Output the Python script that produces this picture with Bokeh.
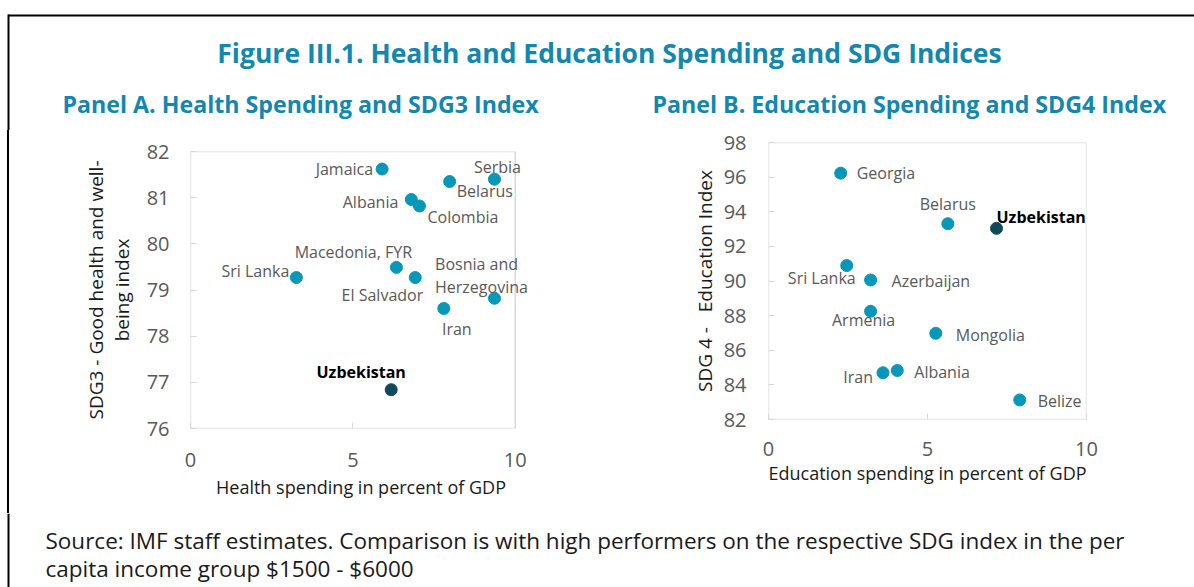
from bokeh.plotting import figure
from bokeh.layouts import column, row
from bokeh.models import Range1d, ColumnDataSource, FixedTicker, LabelSet, Div
from bokeh.core.properties import value
from bokeh.embed import file_html
from bokeh.resources import INLINE

# ---------------- data ----------------
a_countries = ["Jamaica", "Serbia", "Belarus", "Albania", "Colombia", "Macedonia, FYR",
               "Sri Lanka", "El Salvador", "Bosnia and\nHerzegovina", "Iran", "Uzbekistan"]
a_health_spend = [5.9, 9.36, 7.98, 6.8, 7.05, 6.34, 3.26, 6.92, 9.36, 7.8, 6.18]
a_sdg3 = [81.62, 81.40, 81.35, 80.96, 80.82, 79.49, 79.27, 79.27, 78.82, 78.60, 76.84]

b_countries = ["Georgia", "Belarus", "Uzbekistan", "Sri Lanka", "Azerbaijan", "Armenia",
               "Mongolia", "Albania", "Iran", "Belize"]
b_edu_spend = [2.27, 5.64, 7.17, 2.46, 3.21, 3.21, 5.26, 4.05, 3.60, 7.90]
b_sdg4 = [96.23, 93.31, 93.04, 90.89, 90.06, 88.25, 86.98, 84.83, 84.70, 83.13]

a_xticks = [0, 5, 10]
a_yticks = [76, 77, 78, 79, 80, 81, 82]
b_xticks = [0, 5, 10]
b_yticks = [82, 84, 86, 88, 90, 92, 94, 96, 98]
x_lim = (0, 10)
a_ylim = (76, 82)
b_ylim = (82, 98)

# label placement (pixels, +down) -- layout only
a_dx = [-9, 3, 7, -13, 8, -43, -7, 8, -13, 13, -30]
a_dy = [0, -12, 9, 2, 11, -15, -7, 17, -23, 21, -18]
a_align = ["right", "center", "left", "right", "left", "center", "right", "right", "center", "center", "center"]

b_dx = [16, 0, 0, 9, 21, -7, 20, 17, -10, 18]
b_dy = [0, -20, -11, 12, 1, 9, 2, 1, 4, 1]
b_align = ["left", "center", "left", "right", "left", "center", "left", "left", "right", "left"]

FONT = value("Open Sans")
TEAL = "#0797b8"
DARK = "#0f4a5c"
TITLE_C = "#1287b0"
GRAY = "#595959"
BOX = "#d9d9d9"
W = 1194


def blank(width, height):
    p = figure(width=width, height=height, output_backend="svg", toolbar_location=None,
               x_range=Range1d(0, width), y_range=Range1d(height, 0), min_border=0)
    p.axis.visible = False
    p.grid.visible = False
    p.outline_line_color = None
    return p


# ---------------- header (window y 0..130) ----------------
hdr_h = 130
hdr = blank(W, hdr_h)
hdr.line(x=[8, W], y=[15, 15], line_color="black", line_width=2)
hdr.line(x=[8, 8], y=[14, hdr_h], line_color="black", line_width=2)
hdr.text(x=[609], y=[52], text=["Figure III.1. Health and Education Spending and SDG Indices"],
         text_font=FONT, text_font_style="bold", text_font_size="26.5px",
         text_color=TITLE_C, text_align="center", text_baseline="middle")
hdr.text(x=[62, 652], y=[103, 103],
         text=["Panel A. Health Spending and SDG3 Index", "Panel B. Education Spending and SDG4 Index"],
         text_font=FONT, text_font_style="bold", text_font_size="23.2px",
         text_color=TITLE_C, text_align="left", text_baseline="middle")

# ---------------- panels row (window y 130..513) ----------------
row_h = 383
sp = Div(width=28, height=row_h, margin=(0, 0, 0, 0),
         text='<div style="position:absolute;left:7px;top:0px;width:2px;height:%dpx;background:#000;"></div>' % row_h)


def panel(width, x_rng, xlim, ylim, xt, yt, mb_left, mb_right, mb_top, mb_bottom, xlabel, ylabel,
          tick_std_x, lab_std_x, tick_std_y, lab_std_y):
    p = figure(width=width, height=row_h, output_backend="svg", toolbar_location=None,
               x_range=Range1d(*x_rng), y_range=Range1d(*ylim),
               min_border_left=mb_left, min_border_right=mb_right,
               min_border_top=mb_top, min_border_bottom=mb_bottom)
    p.grid.visible = False
    p.outline_line_color = None
    # plot-area box drawn at the data limits
    p.line(x=[xlim[0], xlim[1], xlim[1], xlim[0], xlim[0]],
           y=[ylim[0], ylim[0], ylim[1], ylim[1], ylim[0]], line_color=BOX, line_width=1.5)
    p.xaxis.ticker = FixedTicker(ticks=xt)
    p.yaxis.ticker = FixedTicker(ticks=yt)
    for ax in (p.xaxis, p.yaxis):
        ax.axis_line_color = None
        ax.major_tick_in = 6
        ax.major_tick_out = 0
        ax.major_tick_line_color = BOX
        ax.minor_tick_line_color = None
        ax.major_label_text_font = "Open Sans"
        ax.major_label_text_font_size = "20px"
        ax.major_label_text_color = GRAY
        ax.axis_label_text_font = "Open Sans"
        ax.axis_label_text_font_size = "18px"
        ax.axis_label_text_font_style = "normal"
        ax.axis_label_text_color = "#1a1a1a"
    p.yaxis.axis_label_text_font_size = "19px"
    p.yaxis.axis_label_text_line_height = 1.0
    p.xaxis.major_label_standoff = tick_std_x
    p.yaxis.major_label_standoff = tick_std_y
    p.xaxis.axis_label = xlabel
    p.yaxis.axis_label = ylabel
    p.xaxis.axis_label_standoff = lab_std_x
    p.yaxis.axis_label_standoff = lab_std_y
    p.background_fill_color = "white"
    p.border_fill_color = "white"
    return p


def add_points(p, xs, ys, names, dx, dy, align):
    normal = [i for i, n in enumerate(names) if n != "Uzbekistan"]
    uz = [i for i, n in enumerate(names) if n == "Uzbekistan"]

    def mk(idx):
        return ColumnDataSource(dict(x=[xs[i] for i in idx], y=[ys[i] for i in idx],
                                     t=[names[i] for i in idx], dx=[dx[i] for i in idx],
                                     dy=[-dy[i] for i in idx], al=[align[i] for i in idx]))
    src, srcu = mk(normal), mk(uz)
    p.add_layout(LabelSet(x="x", y="y", text="t", x_offset="dx", y_offset="dy", text_align="al",
                          source=src, text_font=FONT, text_font_size="16px", text_color=GRAY,
                          text_baseline="middle", text_line_height=1.05))
    p.add_layout(LabelSet(x="x", y="y", text="t", x_offset="dx", y_offset="dy", text_align="al",
                          source=srcu, text_font=FONT, text_font_size="16px",
                          text_font_style="bold", text_color="black", text_baseline="middle"))
    p.scatter(x="x", y="y", source=src, size=12, fill_color=TEAL, line_color=TEAL)
    p.scatter(x="x", y="y", source=srcu, size=12, fill_color=DARK, line_color=DARK)


# Panel A: figure x 28..640; box x 190..515 (frame extended to 10.5 so labels are not clipped)
pa = panel(612, (0, 10.5), x_lim, a_ylim, a_xticks, a_yticks, 162, 109, 21, 85,
           "Health spending in percent of GDP", "SDG3 - Good health and well-\nbeing index",
           24, 5, 21, 9)
add_points(pa, a_health_spend, a_sdg3, a_countries, a_dx, a_dy, a_align)

# Panel B: figure x 640..1194; frame x 767.7..1086, y 141.7..419
pb = panel(554, (0, 10), x_lim, b_ylim, b_xticks, b_yticks, 128, 108, 12, 94,
           "Education spending in percent of GDP", "SDG 4 -\u00a0\u00a0\u00a0Education Index",
           22, 2, 22, 3)
add_points(pb, b_edu_spend, b_sdg4, b_countries, b_dx, b_dy, b_align)

# ---------------- footer (window y 513..587) ----------------
ftr_h = 74
ftr = blank(W, ftr_h)
ftr.line(x=[8, 8], y=[0, ftr_h], line_color="black", line_width=2)
ftr.text(x=[45, 45], y=[27, 55],
         text=["Source: IMF staff estimates. Comparison is with high performers on the respective SDG index in the per",
               "capita income group $1500 - $6000"],
         text_font=FONT, text_font_size="22.5px", text_color="#1a1a1a",
         text_align="left", text_baseline="middle")

layout = column(hdr, row(sp, column(pa), column(pb), spacing=0), ftr, spacing=0)

open("out.html", "w").write(file_html(layout, INLINE))
